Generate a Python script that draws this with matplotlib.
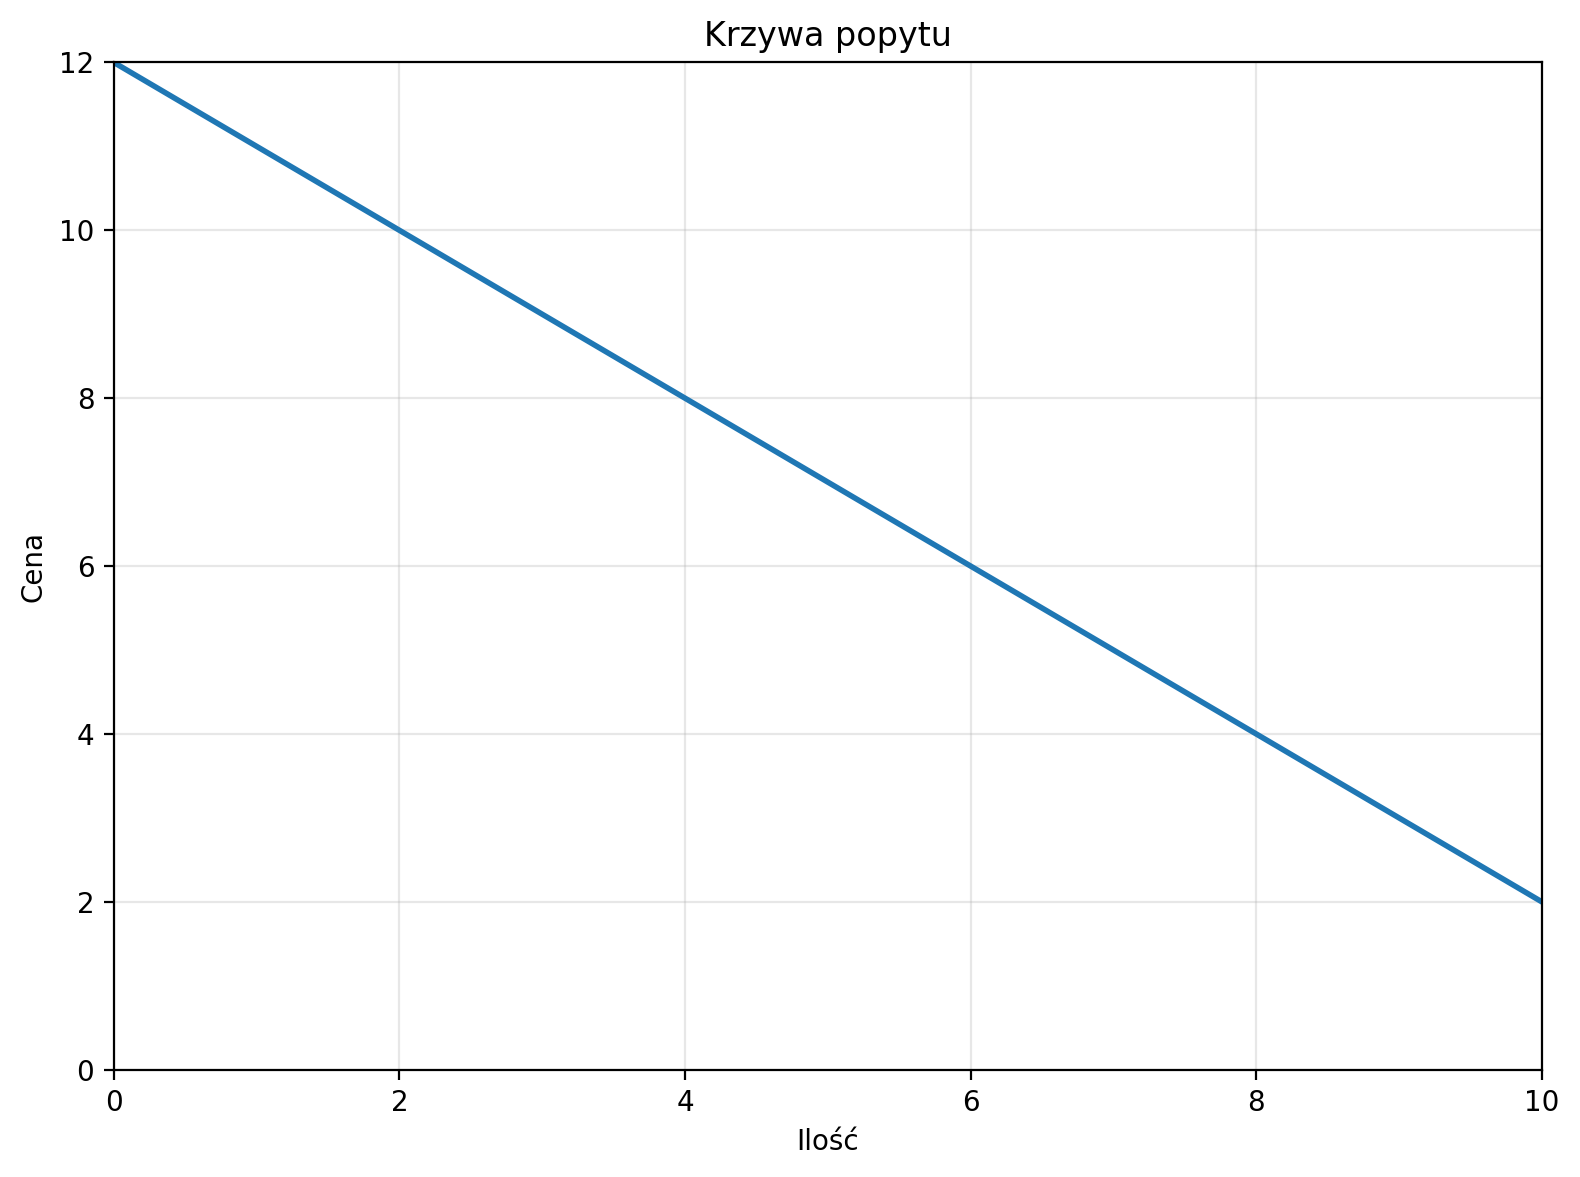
import matplotlib
matplotlib.use("Agg")
import matplotlib.pyplot as plt

# Demand curve data
quantity = [0, 2, 4, 6, 8, 10]
price = [12, 10, 8, 6, 4, 2]

fig, ax = plt.subplots(figsize=(7.9, 5.885), dpi=200)
ax.plot(quantity, price, color='#1f77b4', linewidth=2)

ax.set_xlim(0, 10)
ax.set_ylim(0, 12)
ax.set_title('Krzywa popytu')
ax.set_xlabel('Ilość')
ax.set_ylabel('Cena')
ax.grid(True, alpha=0.3)

fig.subplots_adjust(left=0.072, right=0.976, top=0.947, bottom=0.091)
fig.savefig('out.png', dpi=200)
